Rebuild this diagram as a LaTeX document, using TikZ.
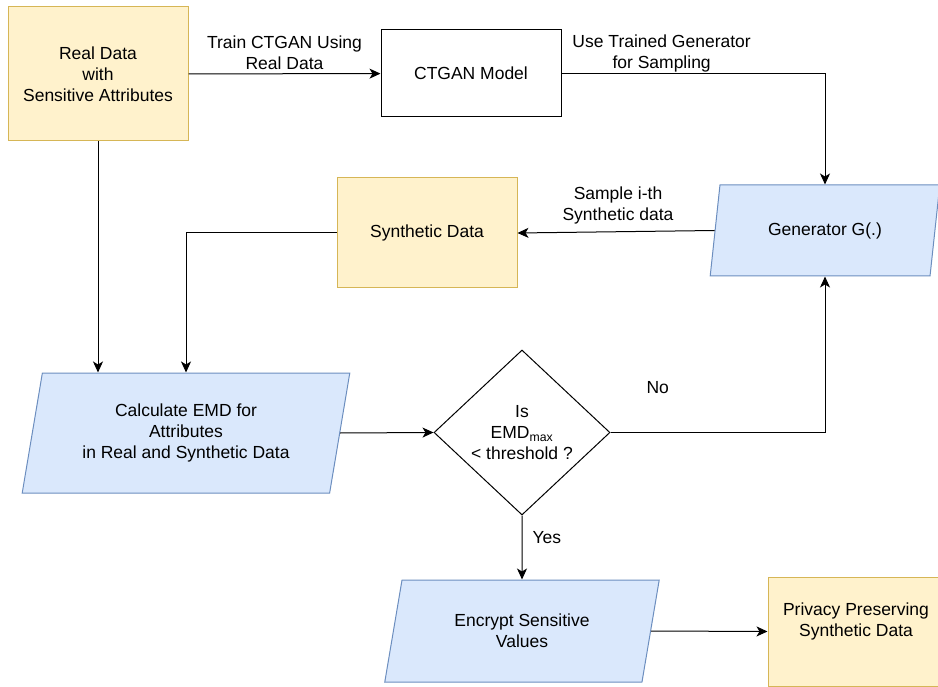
\documentclass[tikz,border=0pt]{standalone}
\usepackage{fontspec}
\setmainfont{Liberation Sans}
\usetikzlibrary{shapes.geometric,arrows.meta}
\definecolor{dataFill}{HTML}{FFF2CC}
\definecolor{dataLine}{HTML}{D6B656}
\definecolor{procFill}{HTML}{DAE8FC}
\definecolor{procLine}{HTML}{6C8EBF}

\begin{document}
\begin{tikzpicture}[x=1pt,y=-1pt,>={Stealth[length=11pt,width=10pt,inset=3pt]}]
        \tikzstyle{every node}=[font=\fontsize{17.5}{21}\selectfont,align=center,inner sep=0pt]
        \tikzstyle{databox}=[draw=dataLine,fill=dataFill,line width=1pt]
        \tikzstyle{procbox}=[draw=procLine,fill=procFill,line width=1pt,trapezium,trapezium stretches=true]
        \tikzstyle{flow}=[draw,line width=1pt,->]
        \useasboundingbox (0,0) rectangle (938,687);
        \begin{scope}
        \clip (0,0) rectangle (938,687);
        \node[databox,minimum width=180pt,minimum height=134pt] (real) at (98,74) {Real Data\\with\\Sensitive Attributes};
        \node[draw,line width=1pt,minimum width=180pt,minimum height=87pt] (ctgan) at (471,73.5) {CTGAN Model};
        \node[procbox,trapezium left angle=72,trapezium right angle=108,minimum width=230pt,minimum height=91pt] (gen) at (825,230.5) {Generator G(.)};
        \node[databox,minimum width=180pt,minimum height=110pt] (synth) at (427,233) {Synthetic Data};
        \node[procbox,trapezium left angle=76,trapezium right angle=104,minimum width=328pt,minimum height=120pt] (calc) at (186,433) {Calculate EMD for\\Attributes\\in Real and Synthetic Data};
        \node[draw,diamond,line width=1pt,minimum width=176pt,minimum height=165pt] (check) at (522,432.5) {Is\\EMD\textsubscript{max}\\\textless{} threshold ?};
        \node[procbox,trapezium left angle=74,trapezium right angle=106,minimum width=275pt,minimum height=102pt] (enc) at (522,631) {Encrypt Sensitive\\Values};
        \node[databox,minimum width=180pt,minimum height=109pt] (priv) at (858,631.5) {};
        \node (privtext) at (856,621) {Privacy Preserving\\Synthetic Data};
        \end{scope}
        \path[flow] (real) -- node[above=4pt] {Train CTGAN Using\\Real Data} (ctgan);
        \path[flow] (ctgan.east) -| node[pos=0.19,above=1pt] {Use Trained Generator\\for Sampling} (gen.north);
        \path[flow] (gen.west) -- node[above=7pt,pos=0.49] {Sample i-th\\Synthetic data} (synth.east);
        \path[flow] (synth.west) -| (calc.north);
        \path[flow] (real.south) -- (real.south |- calc.north);
        \path[flow] (calc.east) -- (check.west);
        \path[flow] (check.east) -| node[pos=0.11,above=38pt] {No} (gen.south);
        \path[flow] (check.south) -- node[right=10pt,pos=0.35] {Yes} (enc.north);
        \path[flow] (enc.east) -- (priv.west);
\end{tikzpicture}
\end{document}
